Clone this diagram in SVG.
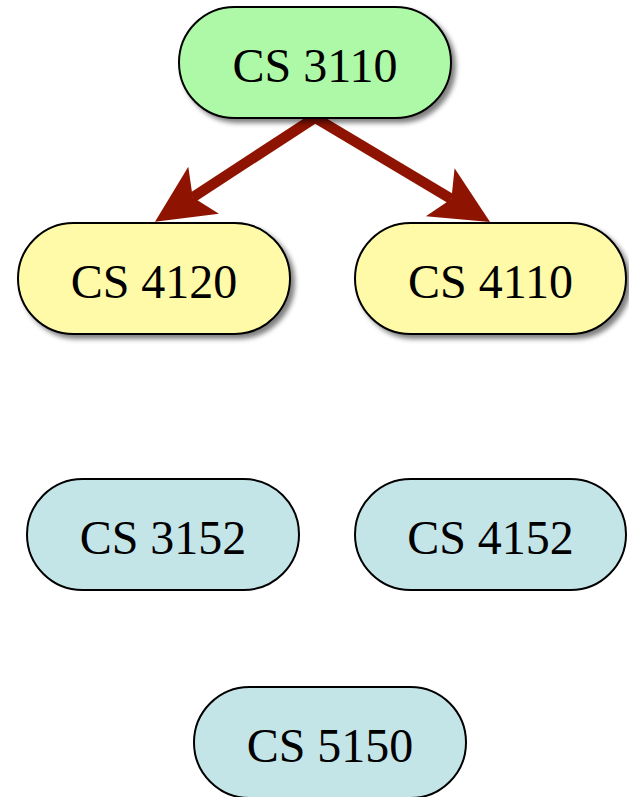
<svg xmlns="http://www.w3.org/2000/svg" width="629" height="797" viewBox="0 0 629 797">
<style>
.node rect{stroke:#000;stroke-width:2}
.node text{font-family:"Liberation Serif","Times New Roman",serif;font-size:48px;text-anchor:middle;fill:#000}
.green rect{fill:#aef9a7}
.yellow rect{fill:#fffaa8}
.blue rect{fill:#c4e5e8}
.edge{stroke:#8e1300;stroke-width:10.5;fill:none;marker-end:url(#arr)}
</style>
<defs>
<filter id="sh" x="-10%" y="-10%" width="130%" height="140%">
<feGaussianBlur in="SourceAlpha" stdDeviation="2.5"/>
<feOffset dx="4" dy="4" result="b"/>
<feComponentTransfer><feFuncA type="linear" slope="0.5"/></feComponentTransfer>
<feMerge><feMergeNode/><feMergeNode in="SourceGraphic"/></feMerge>
</filter>
<marker id="arr" markerUnits="userSpaceOnUse" orient="auto" refX="0" refY="0" viewBox="-20 -30 70 60" markerWidth="70" markerHeight="60" overflow="visible">
<path d="M45,0 L-13,-28 L0,0 L-13,28 Z" fill="#8e1300"/>
</marker>
</defs>
<g id="connectors">
<line class="edge" x1="316" y1="117" x2="192.7" y2="197.3"/>
<line class="edge" x1="314" y1="117" x2="451.4" y2="198.9"/>
</g>
<g id="n3110" class="node green"><rect x="179" y="7" width="272" height="111" rx="55.5" filter="url(#sh)"/><text x="315" y="82">CS 3110</text></g>
<g id="n4120" class="node yellow"><rect x="18" y="223" width="272" height="111" rx="55.5" filter="url(#sh)"/><text x="154" y="298">CS 4120</text></g>
<g id="n4110" class="node yellow"><rect x="355" y="223" width="271" height="111" rx="55.5" filter="url(#sh)"/><text x="490.5" y="298">CS 4110</text></g>
<g id="n3152" class="node blue"><rect x="27" y="479" width="272" height="111" rx="55.5"/><text x="163" y="554">CS 3152</text></g>
<g id="n4152" class="node blue"><rect x="355" y="479" width="271" height="111" rx="55.5"/><text x="490.5" y="554">CS 4152</text></g>
<g id="n5150" class="node blue"><rect x="194" y="687" width="272" height="111" rx="55.5"/><text x="330" y="762">CS 5150</text></g>
</svg>
